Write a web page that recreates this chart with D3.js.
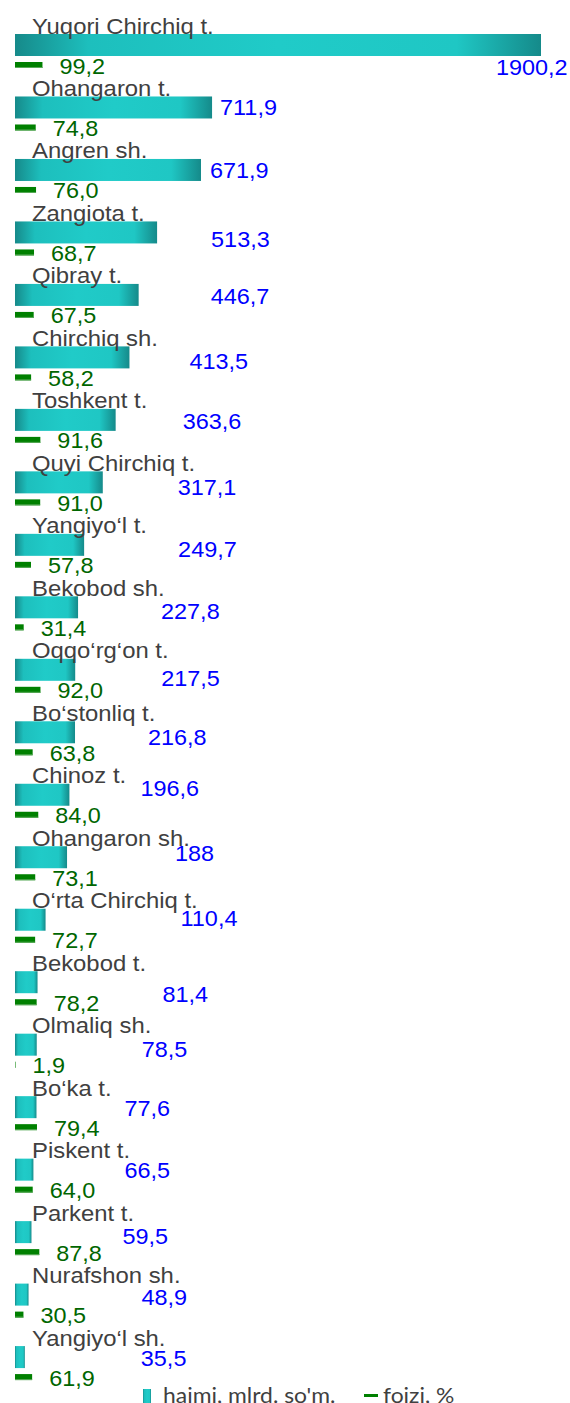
<!DOCTYPE html>
<html>
<head>
<meta charset="utf-8">
<script src="https://cdn.jsdelivr.net/npm/d3@7"></script>
<style>
  html, body { margin: 0; padding: 0; background: #fff; }
  svg { display: block; }
</style>
</head>
<body>
<div id="chart"></div>
<script>
const districts = ["Yuqori Chirchiq t.", "Ohangaron t.", "Angren sh.", "Zangiota t.", "Qibray t.",
  "Chirchiq sh.", "Toshkent t.", "Quyi Chirchiq t.", "Yangiyo‘l t.", "Bekobod sh.", "Oqqo‘rg‘on t.",
  "Bo‘stonliq t.", "Chinoz t.", "Ohangaron sh.", "O‘rta Chirchiq t.", "Bekobod t.", "Olmaliq sh.",
  "Bo‘ka t.", "Piskent t.", "Parkent t.", "Nurafshon sh.", "Yangiyo‘l sh."];
const hajmi = [1900.2, 711.9, 671.9, 513.3, 446.7, 413.5, 363.6, 317.1, 249.7, 227.8, 217.5,
  216.8, 196.6, 188, 110.4, 81.4, 78.5, 77.6, 66.5, 59.5, 48.9, 35.5];
const foizi = [99.2, 74.8, 76.0, 68.7, 67.5, 58.2, 91.6, 91.0, 57.8, 31.4, 92.0,
  63.8, 84.0, 73.1, 72.7, 78.2, 1.9, 79.4, 64.0, 87.8, 30.5, 61.9];
const seriesNames = ["hajmi, mlrd. so'm.", "foizi, %"];
// manually dragged value labels (offset from bar end / bar centre), as in the source chart
const hajmiLabelNudge = [[-45, 22], [8, 0], [9, 1], [54, 7], [72, 2], [60, 4], [67, 2], [75, 5], [94, 5],
  [83, 4], [86, 9], [73, 5], [71, -6], [108, -4], [135, -1], [125, 12], [105, 5], [88, 1], [91, 1],
  [91, 4], [113, 3], [116, 1]];

const width = 570, height = 1403;
const font = '"Liberation Sans", Arial, sans-serif';
const legendFont = 'Lato, "Open Sans", sans-serif';

const svg = d3.select("#chart").append("svg")
  .attr("width", width).attr("height", height)
  .attr("viewBox", `0 0 ${width} ${height}`);

const defs = svg.append("defs");
const grad = defs.append("linearGradient").attr("id", "teal")
  .attr("x1", 0).attr("x2", 1).attr("y1", 0).attr("y2", 0);
[[0, "#168a8a"], [0.14, "#1dbfbd"], [0.5, "#20cbc8"], [0.84, "#1fc7c4"], [1, "#158a8a"]]
  .forEach(([o, c]) => grad.append("stop").attr("offset", o).attr("stop-color", c));

const x = d3.scaleLinear().domain([0, 1900.2]).range([15, 541]);
const y = d3.scaleBand().domain(districts).range([24, 24 + 62.48 * districts.length]);

const rows = districts.map((name, i) => ({ name, v: hajmi[i], p: foizi[i], nudge: hajmiLabelNudge[i] }));

const fmtV = v => (Number.isInteger(v) ? String(v) : v.toFixed(1)).replace(".", ",");
const fmtP = v => v.toFixed(1).replace(".", ",");

const row = svg.append("g").selectAll("g.row").data(rows).enter().append("g")
  .attr("class", "row")
  .attr("transform", d => `translate(0,${y(d.name)})`);

// teal volume bars
row.append("rect")
  .attr("x", x(0)).attr("y", 10)
  .attr("width", d => x(d.v) - x(0)).attr("height", 22)
  .attr("fill", "url(#teal)");

// green percentage bars
row.append("rect")
  .attr("x", x(0)).attr("y", 38)
  .attr("width", d => x(d.p) - x(0)).attr("height", 6)
  .attr("fill", "#008000");
row.append("rect")
  .attr("x", x(0)).attr("y", 43)
  .attr("width", d => x(d.p) - x(0)).attr("height", 1)
  .attr("fill", "#5aa95a");

function stretched(sel, px, py, s) {
  return sel.attr("transform", d => `translate(${px(d)},${py(d)}) scale(${s},1)`);
}

// category names
stretched(row.append("text"), () => 32, () => 9.5, 1.11)
  .attr("font-family", font).attr("font-size", 21.5).attr("fill", "#404040")
  .text(d => d.name);

// green value labels
stretched(row.append("text"), d => x(d.p) + 17, () => 42, 1.09)
  .attr("font-family", font).attr("font-size", 21.5).attr("fill", "#006600")
  .attr("dy", "0.35em")
  .text(d => fmtP(d.p));

// blue value labels
stretched(row.append("text"), d => x(d.v) + d.nudge[0], d => 21 + d.nudge[1], 1.09)
  .attr("font-family", font).attr("font-size", 21.5).attr("fill", "#0000ff")
  .attr("dy", "0.35em")
  .text(d => fmtV(d.v));

// legend (cut by the bottom edge, as in the source)
const legend = svg.append("g").attr("transform", "translate(143,1389)");
legend.append("rect").attr("x", 0).attr("y", 0).attr("width", 8).attr("height", 16).attr("fill", "url(#teal)");
legend.append("text").attr("transform", "translate(20,13.5) scale(1.09,1)")
  .attr("font-family", legendFont).attr("font-size", 21).attr("fill", "#404040")
  .text(seriesNames[0]);
legend.append("rect").attr("x", 221).attr("y", 5).attr("width", 14).attr("height", 3).attr("fill", "#008000");
legend.append("text").attr("transform", "translate(240,13.5) scale(1.09,1)")
  .attr("font-family", legendFont).attr("font-size", 21).attr("fill", "#404040")
  .text(seriesNames[1]);
</script>
</body>
</html>
